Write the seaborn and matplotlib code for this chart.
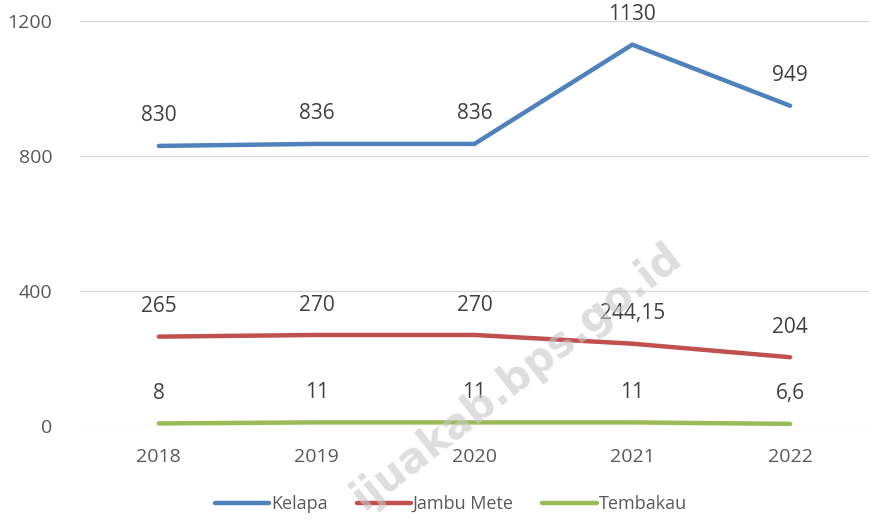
import matplotlib
matplotlib.use("Agg")
import matplotlib.pyplot as plt
import pandas as pd
import seaborn as sns


YEARS = ["2018", "2019", "2020", "2021", "2022"]
KELAPA = [830, 836, 836, 1130, 949]
JAMBU_METE = [265, 270, 270, 244.15, 204]
TEMBAKAU = [8, 11, 11, 11, 6.6]
SERIES = ["Kelapa", "Jambu Mete", "Tembakau"]
COLORS = ["#4F81BD", "#C0504D", "#9BBB59"]
Y_TICKS = [0, 400, 800, 1200]


def fmt(v):
    s = f"{v:g}"
    return s.replace(".", ",")


def main() -> None:
    df = pd.DataFrame({
        "Tahun": YEARS * 3,
        "Nilai": KELAPA + JAMBU_METE + TEMBAKAU,
        "Komoditas": [s for s in SERIES for _ in YEARS],
    })

    sns.set_style("white")
    plt.rcParams["font.family"] = ["Open Sans", "DejaVu Sans"]

    fig = plt.figure(figsize=(8.69, 5.19), dpi=100)
    ax = fig.add_axes([0.092, 0.179, 0.908, 0.7805])

    # watermark behind everything
    fig.text(0.595, 0.275, "ijuakab.bps.go.id", fontsize=30, fontweight="bold",
             color="#C8C8C8", alpha=0.6, rotation=38, ha="center",
             va="center", family="DejaVu Sans", zorder=0)

    sns.lineplot(data=df, x="Tahun", y="Nilai", hue="Komoditas",
                 palette=dict(zip(SERIES, COLORS)), linewidth=3.2,
                 ax=ax, legend=True)

    for name in SERIES:
        sub = df[df["Komoditas"] == name].reset_index(drop=True)
        for i, row in sub.iterrows():
            ax.annotate(fmt(row["Nilai"]), (i, row["Nilai"]),
                        textcoords="offset points", xytext=(0, 14),
                        ha="center", va="bottom", fontsize=15,
                        color="#404040")

    ax.set_xlim(-0.5, 4.5)
    ax.set_ylim(0, 1200)
    ax.set_yticks(Y_TICKS)
    ax.yaxis.grid(True, color="#D9D9D9", linewidth=1)
    ax.set_axisbelow(True)
    ax.patch.set_alpha(0)
    for sp in ax.spines.values():
        sp.set_visible(False)
    ax.tick_params(axis="both", length=0, labelsize=14, colors="#595959")
    ax.tick_params(axis="x", pad=16)
    ax.tick_params(axis="y", pad=20)
    ax.set_xlabel("")
    ax.set_ylabel("")

    handles, labels = ax.get_legend_handles_labels()
    ax.legend(handles, labels, loc="upper center",
              bbox_to_anchor=(0.47, -0.13), ncol=3, frameon=False,
              fontsize=13, handlelength=3.0, handletextpad=0.1,
              columnspacing=1.6, labelcolor="#595959")

    fig.savefig("out.png", dpi=100)
    plt.close(fig)


if __name__ == "__main__":
    main()
